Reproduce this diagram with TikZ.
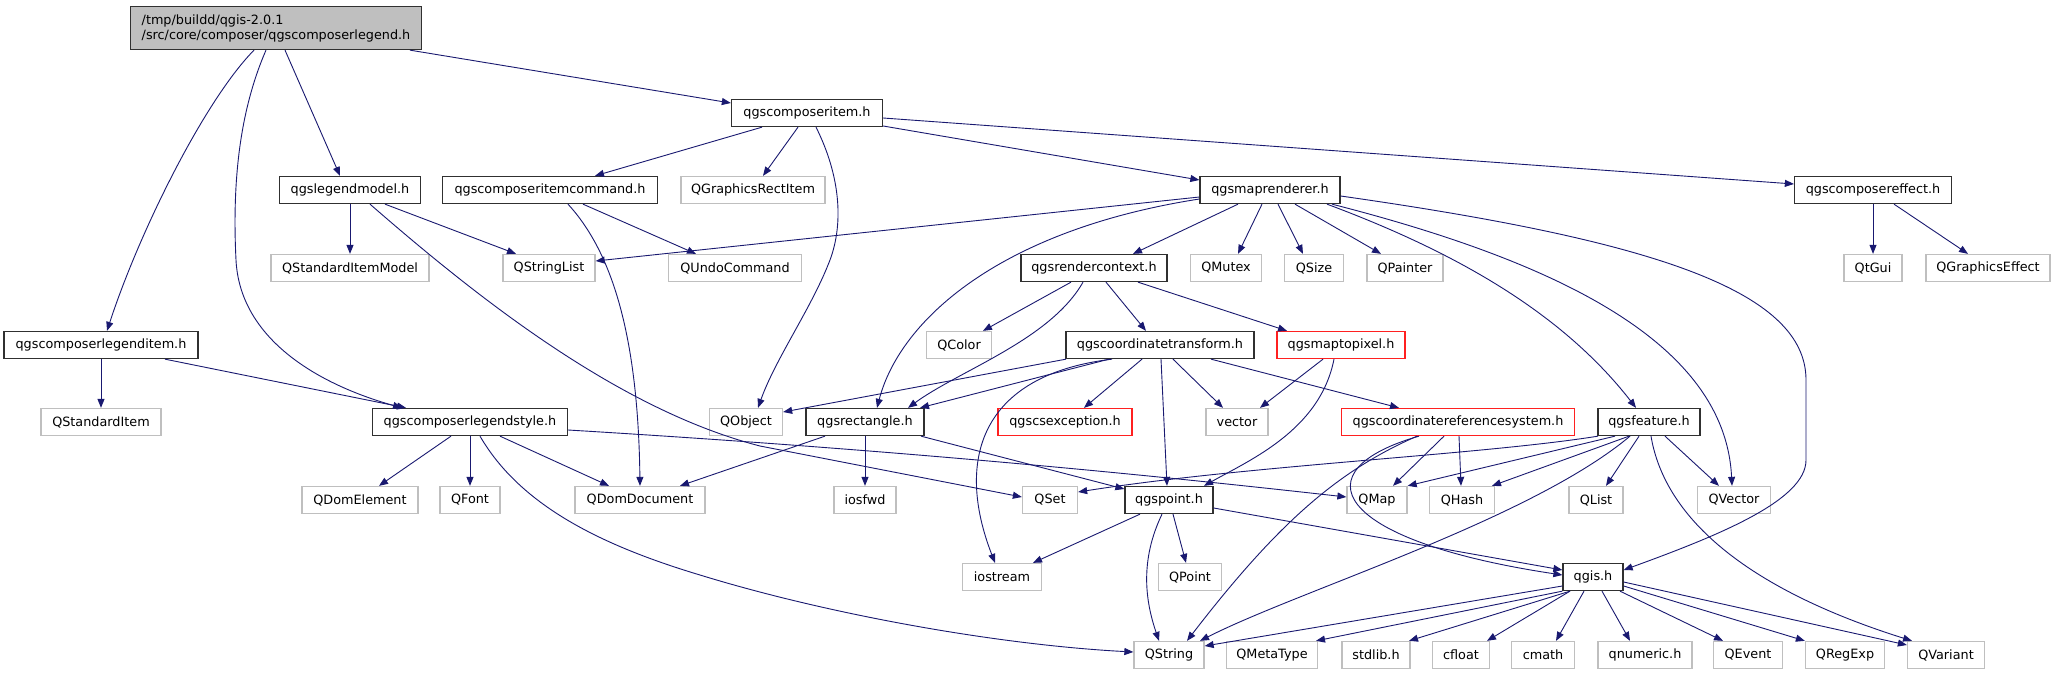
\documentclass[tikz,border=0pt]{standalone}
\usepackage{fontspec}
\setmainfont{DejaVu Sans}
\usetikzlibrary{arrows.meta}
\definecolor{navyc}{HTML}{191970}
\definecolor{extgray}{HTML}{BFBFBF}
\definecolor{redc}{HTML}{FF2020}
\definecolor{maingray}{HTML}{BFBFBF}
\definecolor{boxblack}{HTML}{303030}
\newcommand\dxfs{\fontsize{12.8pt}{15pt}\selectfont}
\tikzset{
  box/.style={draw=boxblack, line width=1.3pt, fill=white, minimum height=27pt, inner sep=0pt, font=\dxfs},
  ext/.style={box, draw=extgray},
  redb/.style={box, draw=redc},
  e/.style={draw=navyc, line width=0.9pt, -{Triangle[length=9pt,width=7pt]}},
}
\begin{document}
\begin{tikzpicture}[x=1pt,y=-1pt]
\useasboundingbox[fill=white] (0,0) rectangle (2055,675);
% nodes
\node[box, fill=maingray, minimum width=291pt, minimum height=43pt, align=left] (main) at (276,28) {/tmp/buildd/qgis-2.0.1\\/src/core/composer/qgscomposerlegend.h};
\node[box, minimum width=151pt] (ci) at (807,113) {qgscomposeritem.h};
\node[box, minimum width=141pt] (lm) at (350,190) {qgslegendmodel.h};
\node[box, minimum width=215pt] (cic) at (550,190) {qgscomposeritemcommand.h};
\node[ext, minimum width=144pt] (qgri) at (753,190) {QGraphicsRectItem};
\node[box, minimum width=140pt] (mr) at (1270,190) {qgsmaprenderer.h};
\node[box, minimum width=157pt] (ce) at (1873,190) {qgscomposereffect.h};
\node[ext, minimum width=158pt] (qsim) at (350,268) {QStandardItemModel};
\node[ext, minimum width=92pt] (qsl) at (549,268) {QStringList};
\node[ext, minimum width=133pt] (quc) at (735,268) {QUndoCommand};
\node[box, minimum width=146pt] (rc) at (1094,268) {qgsrendercontext.h};
\node[ext, minimum width=71pt] (qmutex) at (1226,268) {QMutex};
\node[ext, minimum width=59pt] (qsize) at (1314,268) {QSize};
\node[ext, minimum width=76pt] (qpainter) at (1405,268) {QPainter};
\node[ext, minimum width=58pt] (qtgui) at (1873,268) {QtGui};
\node[ext, minimum width=124pt] (qge) at (1988,268) {QGraphicsEffect};
\node[box, minimum width=194pt] (cli) at (101,345) {qgscomposerlegenditem.h};
\node[ext, minimum width=65pt] (qcolor) at (959,345) {QColor};
\node[box, minimum width=188pt] (ct) at (1160,345) {qgscoordinatetransform.h};
\node[redb, minimum width=128pt] (mtp) at (1341,345) {qgsmaptopixel.h};
\node[ext, minimum width=120pt] (qsi) at (101,422) {QStandardItem};
\node[box, minimum width=195pt] (cls) at (470,422) {qgscomposerlegendstyle.h};
\node[ext, minimum width=73pt] (qobject) at (746,422) {QObject};
\node[box, minimum width=118pt] (rect) at (865,422) {qgsrectangle.h};
\node[redb, minimum width=134pt] (cse) at (1065,422) {qgscsexception.h};
\node[ext, minimum width=62pt] (vector) at (1237,422) {vector};
\node[redb, minimum width=233pt] (crs) at (1458,422) {qgscoordinatereferencesystem.h};
\node[box, minimum width=102pt] (feat) at (1649,422) {qgsfeature.h};
\node[ext, minimum width=116pt] (qde) at (360,500) {QDomElement};
\node[ext, minimum width=60pt] (qfont) at (470,500) {QFont};
\node[ext, minimum width=130pt] (qdd) at (640,500) {QDomDocument};
\node[ext, minimum width=62pt] (iosfwd) at (865,500) {iosfwd};
\node[ext, minimum width=55pt] (qset) at (1050,500) {QSet};
\node[box, minimum width=88pt] (pt) at (1169,500) {qgspoint.h};
\node[ext, minimum width=60pt] (qmap) at (1377,500) {QMap};
\node[ext, minimum width=65pt] (qhash) at (1462,500) {QHash};
\node[ext, minimum width=54pt] (qlist) at (1596,500) {QList};
\node[ext, minimum width=73pt] (qvector) at (1734,500) {QVector};
\node[ext, minimum width=79pt] (iostream) at (1002,577) {iostream};
\node[ext, minimum width=63pt] (qpoint) at (1190,577) {QPoint};
\node[box, minimum width=60pt] (qgis) at (1593,577) {qgis.h};
\node[ext, minimum width=70pt] (qstring) at (1169,655) {QString};
\node[ext, minimum width=91pt] (qmetatype) at (1272,655) {QMetaType};
\node[ext, minimum width=68pt] (stdlib) at (1376,655) {stdlib.h};
\node[ext, minimum width=57pt] (cfloat) at (1461,655) {cfloat};
\node[ext, minimum width=63pt] (cmath) at (1543,655) {cmath};
\node[ext, minimum width=94pt] (qnumeric) at (1645,655) {qnumeric.h};
\node[ext, minimum width=69pt] (qevent) at (1748,655) {QEvent};
\node[ext, minimum width=79pt] (qregexp) at (1845,655) {QRegExp};
\node[ext, minimum width=77pt] (qvariant) at (1946,655) {QVariant};
% edges
\draw[e] ([xshift=134pt]main.south) -- ([yshift=10pt]ci.west);
\draw[e] ([xshift=9pt]main.south) -- ([xshift=-10pt]lm.north);
\draw[e] ([xshift=-22pt]main.south) .. controls (205,100) and (140,230) .. ([xshift=6pt]cli.north);
\draw[e] ([xshift=-10pt]main.south) .. controls (240,110) and (232,180) .. (236,260) .. controls (240,340) and (320,385) .. ([xshift=-68pt]cls.north);
\draw[e] ([xshift=-45pt]ci.south) -- ([xshift=45pt]cic.north);
\draw[e] ([xshift=-9pt]ci.south) -- ([xshift=10pt]qgri.north);
\draw[e] ([xshift=9pt]ci.south) .. controls (840,175) and (845,225) .. (828,265) .. controls (810,310) and (775,360) .. ([xshift=12pt]qobject.north);
\draw[e] ([yshift=-13pt]ci.east) -- ([yshift=10pt]mr.west);
\draw[e] ([yshift=-5pt]ci.east) -- ([yshift=6pt]ce.west);
\draw[e] (lm) -- (qsim);
\draw[e] ([xshift=35pt]lm.south) -- ([xshift=-33pt]qsl.north);
\draw[e] ([xshift=20pt]lm.south) .. controls (480,300) and (620,410) .. (760,446) -- ([yshift=3pt]qset.west);
\draw[e] ([xshift=33pt]cic.south) -- ([xshift=-39pt]quc.north);
\draw[e] ([xshift=18pt]cic.south) .. controls (610,250) and (638,330) .. (qdd.north);
\draw[e] ([yshift=-7pt]mr.west) -- ([yshift=7pt]qsl.east);
\draw[e] ([yshift=-9pt]mr.west) .. controls (1000,230) and (900,320) .. ([xshift=12pt]rect.north);
\draw[e] ([xshift=-32pt]mr.south) -- ([xshift=39pt]rc.north);
\draw[e] ([xshift=-8pt]mr.south) -- ([xshift=12pt]qmutex.north);
\draw[e] ([xshift=8pt]mr.south) -- ([xshift=-11pt]qsize.north);
\draw[e] ([xshift=25pt]mr.south) -- ([xshift=-24pt]qpainter.north);
\draw[e] ([xshift=57pt]mr.south) .. controls (1450,250) and (1560,310) .. ([xshift=-13pt]feat.north);
\draw[e] ([xshift=62pt]mr.south) .. controls (1550,260) and (1725,340) .. ([xshift=-2pt]qvector.north);
\draw[e] ([yshift=-6pt]mr.east) .. controls (1650,240) and (1806,290) .. (1806,380) -- (1806,460) .. controls (1806,500) and (1720,535) .. ([yshift=7pt]qgis.east);
\draw[e] ([xshift=-23pt]rc.south) -- ([xshift=24pt]qcolor.north);
\draw[e] ([xshift=-11pt]rc.south) .. controls (1050,340) and (960,370) .. ([xshift=43pt]rect.north);
\draw[e] ([xshift=12pt]rc.south) -- ([xshift=-14pt]ct.north);
\draw[e] ([xshift=44pt]rc.south) -- ([xshift=-54pt]mtp.north);
\draw[e] ([xshift=-94pt]ct.south) -- ([yshift=10pt]qobject.east);
\draw[e] ([xshift=-51pt]ct.south) -- ([xshift=55pt]rect.north);
\draw[e] ([xshift=-48pt]ct.south) .. controls (980,375) and (955,460) .. ([xshift=-7pt]iostream.north);
\draw[e] ([xshift=-18pt]ct.south) -- ([xshift=19pt]cse.north);
\draw[e] ([xshift=1pt]ct.south) -- ([xshift=-2pt]pt.north);
\draw[e] ([xshift=13pt]ct.south) -- ([xshift=-14pt]vector.north);
\draw[e] ([xshift=51pt]ct.south) -- ([xshift=-59pt]crs.north);
\draw[e] ([xshift=-18pt]mtp.south) -- ([xshift=23pt]vector.north);
\draw[e] ([xshift=-7pt]mtp.south) .. controls (1320,430) and (1250,460) .. ([xshift=35pt]pt.north);
\draw[e] (cli) -- (qsi);
\draw[e] ([xshift=64pt]cli.south) -- ([xshift=-64pt]cls.north);
\draw[e] ([xshift=-19pt]cls.south) -- ([xshift=19pt]qde.north);
\draw[e] (cls) -- (qfont);
\draw[e] ([xshift=30pt]cls.south) -- ([xshift=-31pt]qdd.north);
\draw[e] ([xshift=10pt]cls.south) .. controls (520,505) and (600,545) .. (700,575) .. controls (830,615) and (1000,645) .. ([yshift=3pt]qstring.west);
\draw[e] ([yshift=-8pt]cls.east) .. controls (900,450) and (1150,475) .. ([yshift=3pt]qmap.west);
\draw[e] ([xshift=-40pt]rect.south) -- ([xshift=40pt]qdd.north);
\draw[e] (rect) -- (iosfwd);
\draw[e] ([xshift=56pt]rect.south) -- ([yshift=11pt]pt.west);
\draw[e] ([xshift=-14pt]crs.south) -- ([xshift=16pt]qmap.north);
\draw[e] ([xshift=1pt]crs.south) -- ([xshift=-1pt]qhash.north);
\draw[e] ([xshift=-41pt]crs.south) .. controls (1340,470) and (1280,520) .. ([xshift=18pt]qstring.north);
\draw[e] ([xshift=-39pt]crs.south) .. controls (1300,470) and (1330,540) .. ([yshift=2pt]qgis.west);
\draw[e] ([xshift=-51pt]feat.south) .. controls (1480,455) and (1250,465) .. ([yshift=8pt]qset.east);
\draw[e] ([xshift=-34pt]feat.south) -- (qmap.north east);
\draw[e] ([xshift=-20pt]feat.south) -- ([xshift=30pt]qhash.north);
\draw[e] ([xshift=-19pt]feat.south) .. controls (1530,520) and (1300,590) .. ([xshift=31pt]qstring.north);
\draw[e] ([xshift=-10pt]feat.south) -- ([xshift=10pt]qlist.north);
\draw[e] ([xshift=16pt]feat.south) -- ([xshift=-15pt]qvector.north);
\draw[e] ([xshift=2pt]feat.south) .. controls (1665,520) and (1750,590) .. ([xshift=-34pt]qvariant.north);
\draw[e] ([xshift=-29pt]pt.south) -- ([xshift=31pt]iostream.north);
\draw[e] ([xshift=-7pt]pt.south) .. controls (1140,560) and (1145,600) .. ([xshift=-10pt]qstring.north);
\draw[e] ([xshift=4pt]pt.south) -- ([xshift=-4pt]qpoint.north);
\draw[e] ([yshift=-8pt]pt.east) -- ([yshift=7pt]qgis.west);
\draw[e] ([yshift=-9pt]qgis.west) -- ([yshift=9pt]qstring.east);
\draw[e] (qgis.south west) -- ([xshift=44pt]qmetatype.north);
\draw[e] ([xshift=-23pt]qgis.south) -- ([xshift=33pt]stdlib.north);
\draw[e] ([xshift=-23pt]qgis.south) -- ([xshift=26pt]cfloat.north);
\draw[e] ([xshift=-9pt]qgis.south) -- ([xshift=13pt]cmath.north);
\draw[e] ([xshift=9pt]qgis.south) -- ([xshift=-15pt]qnumeric.north);
\draw[e] ([xshift=27pt]qgis.south) -- ([xshift=-25pt]qevent.north);
\draw[e] ([yshift=-9pt]qgis.east) -- (qregexp.north west);
\draw[e] ([yshift=-5pt]qgis.east) -- ([yshift=10pt]qvariant.west);
\draw[e] (ce) -- (qtgui);
\draw[e] ([xshift=21pt]ce.south) -- ([xshift=-20pt]qge.north);
\end{tikzpicture}
\end{document}
